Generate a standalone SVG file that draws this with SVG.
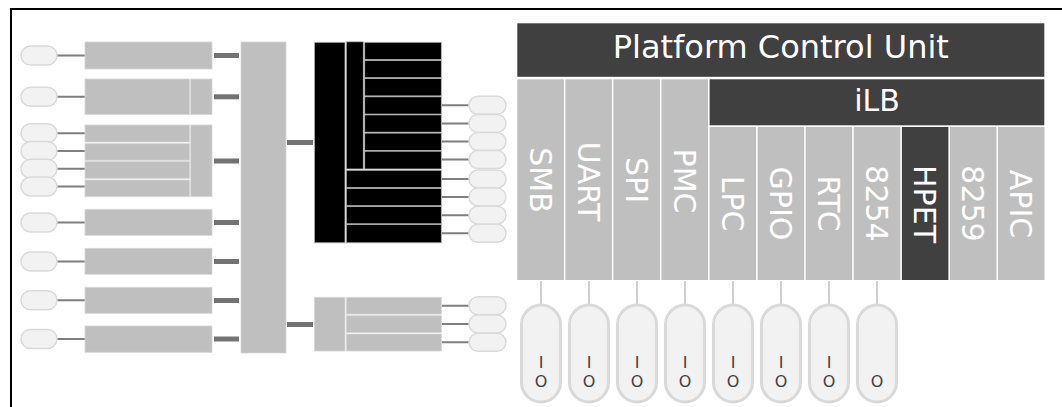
<svg xmlns="http://www.w3.org/2000/svg" width="1062" height="407" viewBox="0 0 1062 407">
<style>
.frame{fill:none;stroke:#000;stroke-width:2}
.box{fill:#bfbfbf;stroke:#d6d6d6;stroke-width:0.8}
.blk{fill:#000;stroke:#b0b0b0;stroke-width:0.8}
.pill{fill:#f2f2f2;stroke:#dadada;stroke-width:1.5}
.iop{fill:#f2f2f2;stroke:#d9d9d9;stroke-width:3}
.thin{stroke:#7f7f7f;stroke-width:2;fill:none}
.thick{fill:#737373}
.vl{stroke:#c0c0c0;stroke-width:1.5;fill:none}
.dark{fill:#404040}
.cell{fill:#bfbfbf}
.t{font-family:"DejaVu Sans","Verdana",sans-serif;fill:#fff}
.hd{font-size:32px;text-anchor:middle}
.vt{font-size:30px;text-anchor:middle}
.io{font-family:"DejaVu Sans","Verdana",sans-serif;font-size:16px;fill:#404040;text-anchor:middle}
</style>
<rect class="frame" x="11" y="9" width="1100" height="500"/>

<g id="connectors">
  <!-- left pill to box -->
  <path class="thin" d="M57 55.5H85M57 96.8H85M57 133.3H85M57 151H85M57 168.7H85M57 186.4H85M57 222.5H85M57 261.5H85M57 300.3H85M57 339H85"/>
  <!-- box to bus -->
  <rect class="thick" x="214" y="53" width="25" height="5"/>
  <rect class="thick" x="214" y="94.3" width="25" height="5"/>
  <rect class="thick" x="214" y="158.5" width="25" height="5"/>
  <rect class="thick" x="214" y="220" width="25" height="5"/>
  <rect class="thick" x="214" y="259" width="25" height="5"/>
  <rect class="thick" x="214" y="298" width="25" height="5"/>
  <rect class="thick" x="214" y="336.5" width="25" height="5"/>
  <!-- bus to blocks -->
  <rect class="thick" x="287" y="140" width="26" height="5"/>
  <rect class="thick" x="287" y="322" width="26" height="5"/>
  <!-- black block to right pills -->
  <path class="thin" d="M442 105.3H469M442 123.4H469M442 141.5H469M442 159.6H469M442 179H469M442 197.1H469M442 215.2H469M442 233.3H469"/>
  <!-- lower block to pills -->
  <path class="thin" d="M442 305.7H469M442 324H469M442 342.3H469"/>
  <!-- PCU columns to IO pills -->
  <path class="vl" d="M541 281V304M589 281V304M637 281V304M685 281V304M733 281V304M781 281V304M829 281V304M877 281V304"/>
</g>

<g id="left-pills">
  <rect class="pill" x="21" y="46" width="36" height="19" rx="9.5"/>
  <rect class="pill" x="21" y="87.3" width="36" height="19" rx="9.5"/>
  <rect class="pill" x="21" y="123.8" width="36" height="19" rx="9.5"/>
  <rect class="pill" x="21" y="141.5" width="36" height="19" rx="9.5"/>
  <rect class="pill" x="21" y="159.2" width="36" height="19" rx="9.5"/>
  <rect class="pill" x="21" y="176.9" width="36" height="19" rx="9.5"/>
  <rect class="pill" x="21" y="213" width="36" height="19" rx="9.5"/>
  <rect class="pill" x="21" y="252" width="36" height="19" rx="9.5"/>
  <rect class="pill" x="21" y="290.8" width="36" height="19" rx="9.5"/>
  <rect class="pill" x="21" y="329.5" width="36" height="19" rx="9.5"/>
</g>

<g id="box1"><rect class="box" x="85" y="42" width="127" height="27"/></g>
<g id="box2">
  <rect class="box" x="85" y="79" width="104.5" height="35.5"/>
  <rect class="box" x="190.7" y="79" width="21.3" height="35.5"/>
</g>
<g id="box3">
  <rect class="box" x="85" y="125" width="104.5" height="17"/>
  <rect class="box" x="85" y="143.7" width="104.5" height="16.5"/>
  <rect class="box" x="85" y="161.6" width="104.5" height="16.7"/>
  <rect class="box" x="85" y="180" width="104.5" height="16.7"/>
  <rect class="box" x="190.7" y="125" width="21.3" height="71.7"/>
</g>
<g id="box4"><rect class="box" x="85" y="209.3" width="127" height="26"/></g>
<g id="box5"><rect class="box" x="85" y="248.3" width="127" height="26"/></g>
<g id="box6"><rect class="box" x="85" y="287.3" width="127" height="26"/></g>
<g id="box7"><rect class="box" x="85" y="326" width="127" height="26.3"/></g>

<g id="bus"><rect class="box" x="241" y="42" width="45" height="311"/></g>

<g id="black-block">
  <rect class="blk" x="314.5" y="42.3" width="30.5" height="200.5"/>
  <rect class="blk" x="346.3" y="41.8" width="17" height="127.2"/>
  <rect class="blk" x="364.7" y="42.3" width="76.6" height="17.3"/>
  <rect class="blk" x="364.7" y="60.5" width="76.6" height="17.2"/>
  <rect class="blk" x="364.7" y="78.6" width="76.6" height="17.3"/>
  <rect class="blk" x="364.7" y="96.8" width="76.6" height="17.3"/>
  <rect class="blk" x="364.7" y="114.9" width="76.6" height="17.3"/>
  <rect class="blk" x="364.7" y="133.1" width="76.6" height="17.3"/>
  <rect class="blk" x="364.7" y="151.2" width="76.6" height="17.8"/>
  <rect class="blk" x="346.3" y="170.3" width="95" height="17.3"/>
  <rect class="blk" x="346.3" y="188.4" width="95" height="17.3"/>
  <rect class="blk" x="346.3" y="206.5" width="95" height="17.3"/>
  <rect class="blk" x="346.3" y="224.6" width="95" height="18.2"/>
</g>

<g id="lower-block">
  <rect class="box" x="314.5" y="297.3" width="30.5" height="53.7"/>
  <rect class="box" x="346.3" y="297.3" width="95" height="16.8"/>
  <rect class="box" x="346.3" y="315.7" width="95" height="16.7"/>
  <rect class="box" x="346.3" y="334" width="95" height="17"/>
</g>

<g id="right-pills">
  <rect class="pill" x="469" y="96.3" width="37" height="18" rx="9"/>
  <rect class="pill" x="469" y="114.4" width="37" height="18" rx="9"/>
  <rect class="pill" x="469" y="132.5" width="37" height="18" rx="9"/>
  <rect class="pill" x="469" y="150.6" width="37" height="18" rx="9"/>
  <rect class="pill" x="469" y="170" width="37" height="18" rx="9"/>
  <rect class="pill" x="469" y="188.1" width="37" height="18" rx="9"/>
  <rect class="pill" x="469" y="206.2" width="37" height="18" rx="9"/>
  <rect class="pill" x="469" y="224.3" width="37" height="18" rx="9"/>
  <rect class="pill" x="469" y="296.7" width="37" height="18" rx="9"/>
  <rect class="pill" x="469" y="315" width="37" height="18" rx="9"/>
  <rect class="pill" x="469" y="333.3" width="37" height="18" rx="9"/>
</g>

<g id="pcu">
  <rect class="dark" x="517.3" y="23.3" width="527" height="53.5"/>
  <text class="t hd" x="780.8" y="58">Platform Control Unit</text>
</g>
<g id="ilb">
  <rect class="dark" x="709.6" y="79.3" width="334.7" height="46"/>
  <text class="t vt" x="877" y="111">iLB</text>
</g>

<g id="smb"><rect class="cell" x="517.3" y="79.3" width="46.5" height="200.7"/><text class="t vt" transform="translate(540.5,180) rotate(90)" y="11">SMB</text></g>
<g id="uart"><rect class="cell" x="565.4" y="79.3" width="46.5" height="200.7"/><text class="t vt" transform="translate(588.6,181.5) rotate(90)" y="11">UART</text></g>
<g id="spi"><rect class="cell" x="613.4" y="79.3" width="46.5" height="200.7"/><text class="t vt" transform="translate(636.6,180) rotate(90)" y="11">SPI</text></g>
<g id="pmc"><rect class="cell" x="661.5" y="79.3" width="46.5" height="200.7"/><text class="t vt" transform="translate(684.7,181) rotate(90)" y="11">PMC</text></g>
<g id="lpc"><rect class="cell" x="709.6" y="127" width="46.5" height="153"/><text class="t vt" transform="translate(732.8,203.5) rotate(90)" y="11">LPC</text></g>
<g id="gpio"><rect class="cell" x="757.7" y="127" width="46.5" height="153"/><text class="t vt" transform="translate(780.9,203.5) rotate(90)" y="11">GPIO</text></g>
<g id="rtc"><rect class="cell" x="805.7" y="127" width="46.5" height="153"/><text class="t vt" transform="translate(829,203.5) rotate(90)" y="11">RTC</text></g>
<g id="i8254"><rect class="cell" x="853.8" y="127" width="46.5" height="153"/><text class="t vt" transform="translate(877,203.5) rotate(90)" y="11">8254</text></g>
<g id="hpet"><rect class="dark" x="901.9" y="127" width="46.5" height="153"/><text class="t vt" transform="translate(925.1,204) rotate(90)" y="11">HPET</text></g>
<g id="i8259"><rect class="cell" x="950" y="127" width="46.5" height="153"/><text class="t vt" transform="translate(973.2,203.5) rotate(90)" y="11">8259</text></g>
<g id="apic"><rect class="cell" x="998" y="127" width="46.5" height="153"/><text class="t vt" transform="translate(1021.2,204) rotate(90)" y="11">APIC</text></g>

<g id="io-pills">
  <g id="io1"><rect class="iop" x="521.5" y="305" width="39" height="97" rx="19.5"/><text class="io" x="541" y="368">I</text><text class="io" x="541" y="387">O</text></g>
  <g id="io2"><rect class="iop" x="569.5" y="305" width="39" height="97" rx="19.5"/><text class="io" x="589" y="368">I</text><text class="io" x="589" y="387">O</text></g>
  <g id="io3"><rect class="iop" x="617.5" y="305" width="39" height="97" rx="19.5"/><text class="io" x="637" y="368">I</text><text class="io" x="637" y="387">O</text></g>
  <g id="io4"><rect class="iop" x="665.5" y="305" width="39" height="97" rx="19.5"/><text class="io" x="685" y="368">I</text><text class="io" x="685" y="387">O</text></g>
  <g id="io5"><rect class="iop" x="713.5" y="305" width="39" height="97" rx="19.5"/><text class="io" x="733" y="368">I</text><text class="io" x="733" y="387">O</text></g>
  <g id="io6"><rect class="iop" x="761.5" y="305" width="39" height="97" rx="19.5"/><text class="io" x="781" y="368">I</text><text class="io" x="781" y="387">O</text></g>
  <g id="io7"><rect class="iop" x="809.5" y="305" width="39" height="97" rx="19.5"/><text class="io" x="829" y="368">I</text><text class="io" x="829" y="387">O</text></g>
  <g id="io8"><rect class="iop" x="857.5" y="305" width="39" height="97" rx="19.5"/><text class="io" x="877" y="387">O</text></g>
</g>
</svg>
